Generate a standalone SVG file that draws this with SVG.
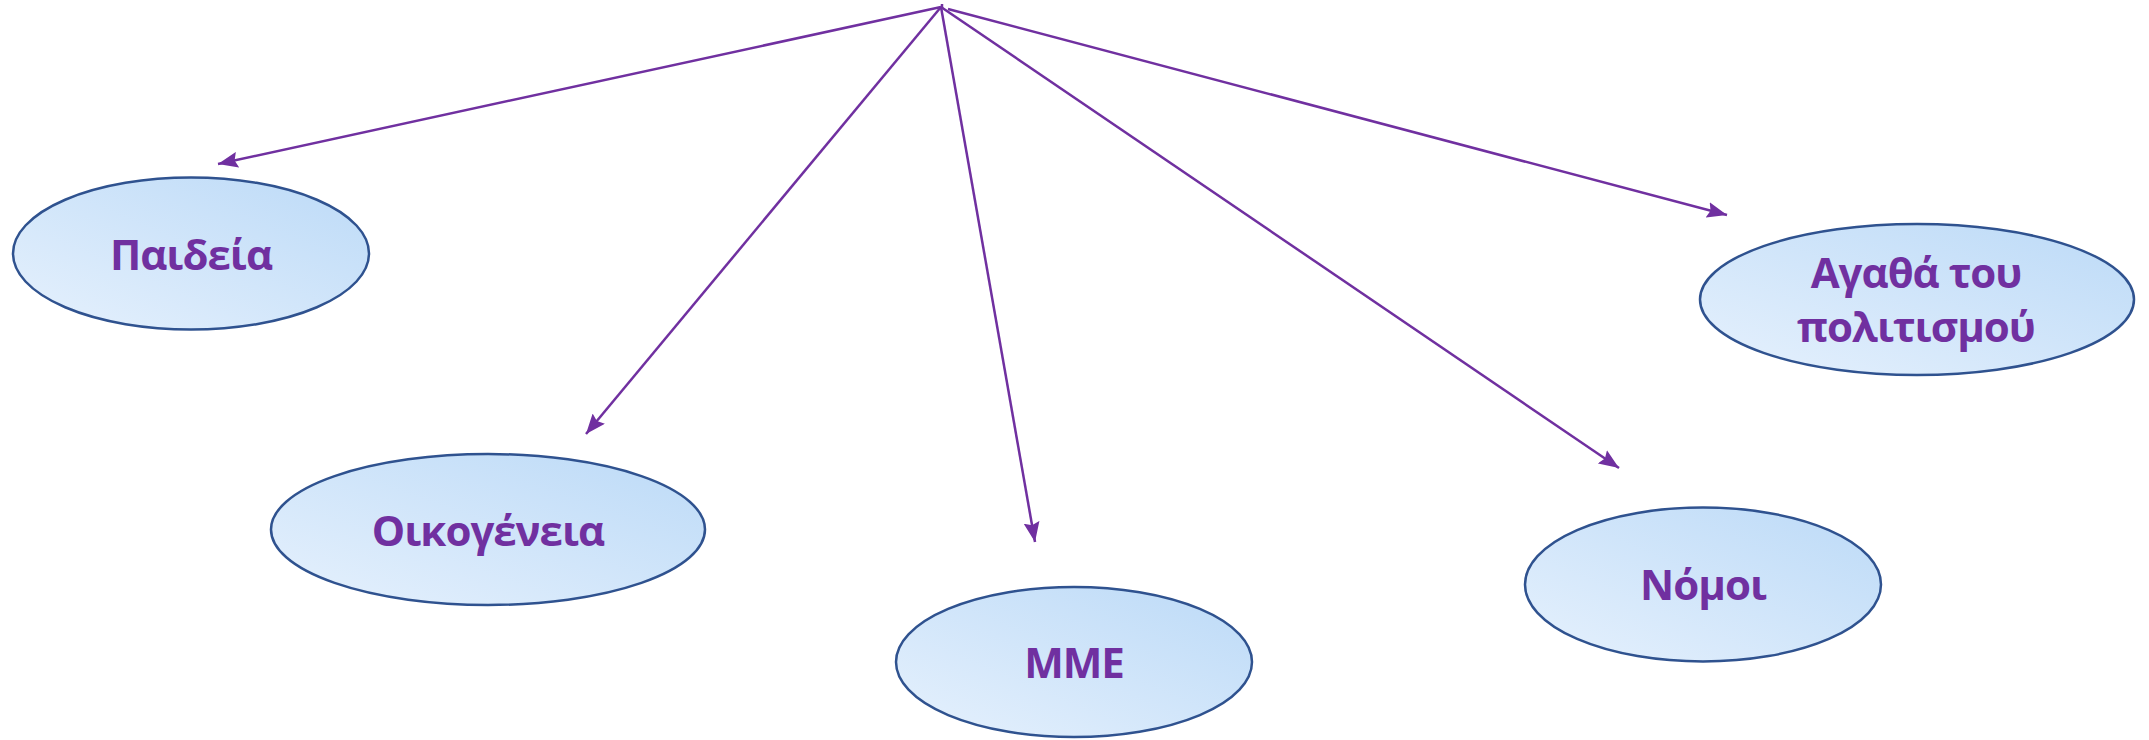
<svg xmlns="http://www.w3.org/2000/svg" width="2149" height="740" viewBox="0 0 2149 740">
<style>
.node ellipse{fill:url(#g);stroke:#2f528f;stroke-width:2.5}
.node text{font-family:"Open Sans","Liberation Sans",sans-serif;font-weight:bold;font-size:42px;letter-spacing:-1px;fill:#7030a0;text-anchor:middle}
.conn line{stroke:#7030a0;stroke-width:2.5;marker-end:url(#ah)}
</style>
<defs>
<linearGradient id="g" x1="0" y1="1" x2="1" y2="0">
<stop offset="0" stop-color="#e6f1fd"/>
<stop offset="1" stop-color="#bcdaf7"/>
</linearGradient>
<marker id="ah" markerUnits="userSpaceOnUse" markerWidth="22" markerHeight="16" refX="20" refY="8" orient="auto">
<path d="M0,0 L20,8 L0,16 L3,8 z" fill="#7030a0"/>
</marker>
</defs>
<rect width="2149" height="740" fill="#ffffff"/>
<g id="n-paideia" class="node"><ellipse cx="191" cy="253.5" rx="178" ry="76"/><text x="191" y="270">Παιδεία</text></g>
<g id="n-oikogeneia" class="node"><ellipse cx="488" cy="529.5" rx="217" ry="75.5"/><text x="488" y="546">Οικογένεια</text></g>
<g id="n-mme" class="node"><ellipse cx="1074" cy="662" rx="178" ry="75"/><text x="1074" y="678">ΜΜΕ</text></g>
<g id="n-nomoi" class="node"><ellipse cx="1703" cy="584.5" rx="178" ry="77"/><text x="1703" y="600">Νόμοι</text></g>
<g id="n-agatha" class="node"><ellipse cx="1917" cy="299.5" rx="217" ry="75.5"/><text x="1916" y="288">Αγαθά του</text><text x="1916" y="342">πολιτισμού</text></g>
<g id="connectors" class="conn">
<line x1="941" y1="7" x2="218" y2="164"/>
<line x1="941" y1="7" x2="586" y2="434"/>
<line x1="941" y1="7" x2="1035" y2="542"/>
<line x1="941" y1="7" x2="1619" y2="468"/>
<line x1="948" y1="9" x2="1727" y2="215"/>
<line x1="942" y1="4" x2="942" y2="9" style="marker-end:none"/>
</g>
</svg>
